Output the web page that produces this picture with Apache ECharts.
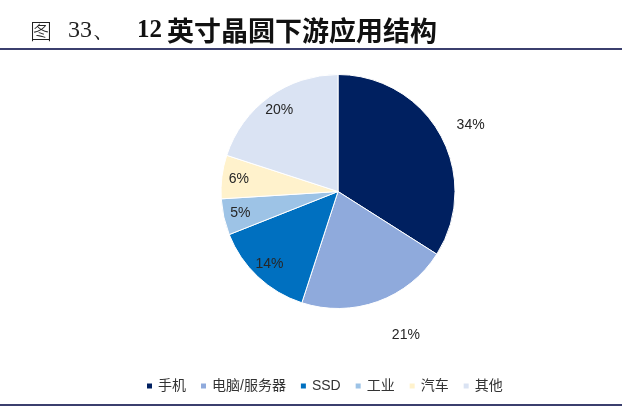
<!DOCTYPE html>
<html>
<head>
<meta charset="utf-8">
<script src="https://cdn.jsdelivr.net/npm/echarts@6/dist/echarts.min.js"></script>
<style>
html,body{margin:0;padding:0;background:#fff;}
#c{width:640px;height:408px;}
</style>
</head>
<body>
<div id="c"></div>
<script>
const categories = ['手机', '电脑/服务器', 'SSD', '工业', '汽车', '其他'];
const shares = [34, 21, 14, 5, 6, 20];
const colors = ['#002060', '#8faadc', '#0070c0', '#9dc3e6', '#fff2cc', '#dae3f3'];
const outsideLabelOffsets = { '手机': [45, -18], '电脑/服务器': [34, 50] };

const chart = echarts.init(document.getElementById('c'), null, { renderer: 'canvas' });
const center = [338, 191.5];

const mainData = categories.map((n, i) => ({ name: n, value: shares[i], itemStyle: { color: colors[i] } }));
const labelData = categories.map((n, i) => ({
  name: n, value: shares[i],
  label: outsideLabelOffsets[n] ? { offset: outsideLabelOffsets[n] } : {}
}));

chart.setOption({
  animation: false,
  title: {
    left: 25, top: 12,
    text: '{t1|图}{t2|33、}{t3|12}{t4|英寸晶圆下游应用结构}',
    textStyle: {
      fontWeight: 'normal',
      rich: {
        t1: { fontFamily: 'Noto Sans CJK SC', fontWeight: 300, fontSize: 22, color: '#222', width: 38 },
        t2: { fontFamily: 'Liberation Serif', fontWeight: 'normal', fontSize: 24, color: '#222', width: 69 },
        t3: { fontFamily: 'Liberation Serif', fontWeight: 'bold', fontSize: 25, color: '#111', width: 30 },
        t4: { fontFamily: 'Noto Sans CJK SC', fontWeight: 'bold', fontSize: 27, color: '#111' }
      }
    }
  },
  graphic: [
    { type: 'line', shape: { x1: 0, y1: 49, x2: 622, y2: 49 }, style: { stroke: '#3b3f6e', lineWidth: 2 } },
    { type: 'line', shape: { x1: 0, y1: 405, x2: 622, y2: 405 }, style: { stroke: '#3b3f6e', lineWidth: 2 } }
  ],
  legend: {
    data: categories,
    left: 140, top: 374,
    icon: 'rect', itemWidth: 7, itemHeight: 7, itemGap: 13,
    selectedMode: false,
    textStyle: { fontSize: 14, color: '#333', fontFamily: 'Liberation Sans, Noto Sans CJK SC' }
  },
  series: [
    {
      type: 'pie', center: center, radius: [0, 117], startAngle: 90, clockwise: true,
      label: { show: false }, labelLine: { show: false },
      itemStyle: { borderColor: '#fff', borderWidth: 1 },
      emphasis: { disabled: true },
      data: mainData
    },
    {
      type: 'pie', center: center, radius: [0, 194], startAngle: 90, clockwise: true,
      silent: true, z: 3,
      itemStyle: { color: 'rgba(0,0,0,0)' },
      label: { show: true, position: 'inside', formatter: '{c}%', fontSize: 14, color: '#262626', fontFamily: 'Liberation Sans' },
      labelLine: { show: false },
      emphasis: { disabled: true },
      data: labelData
    }
  ]
});
</script>
</body>
</html>
